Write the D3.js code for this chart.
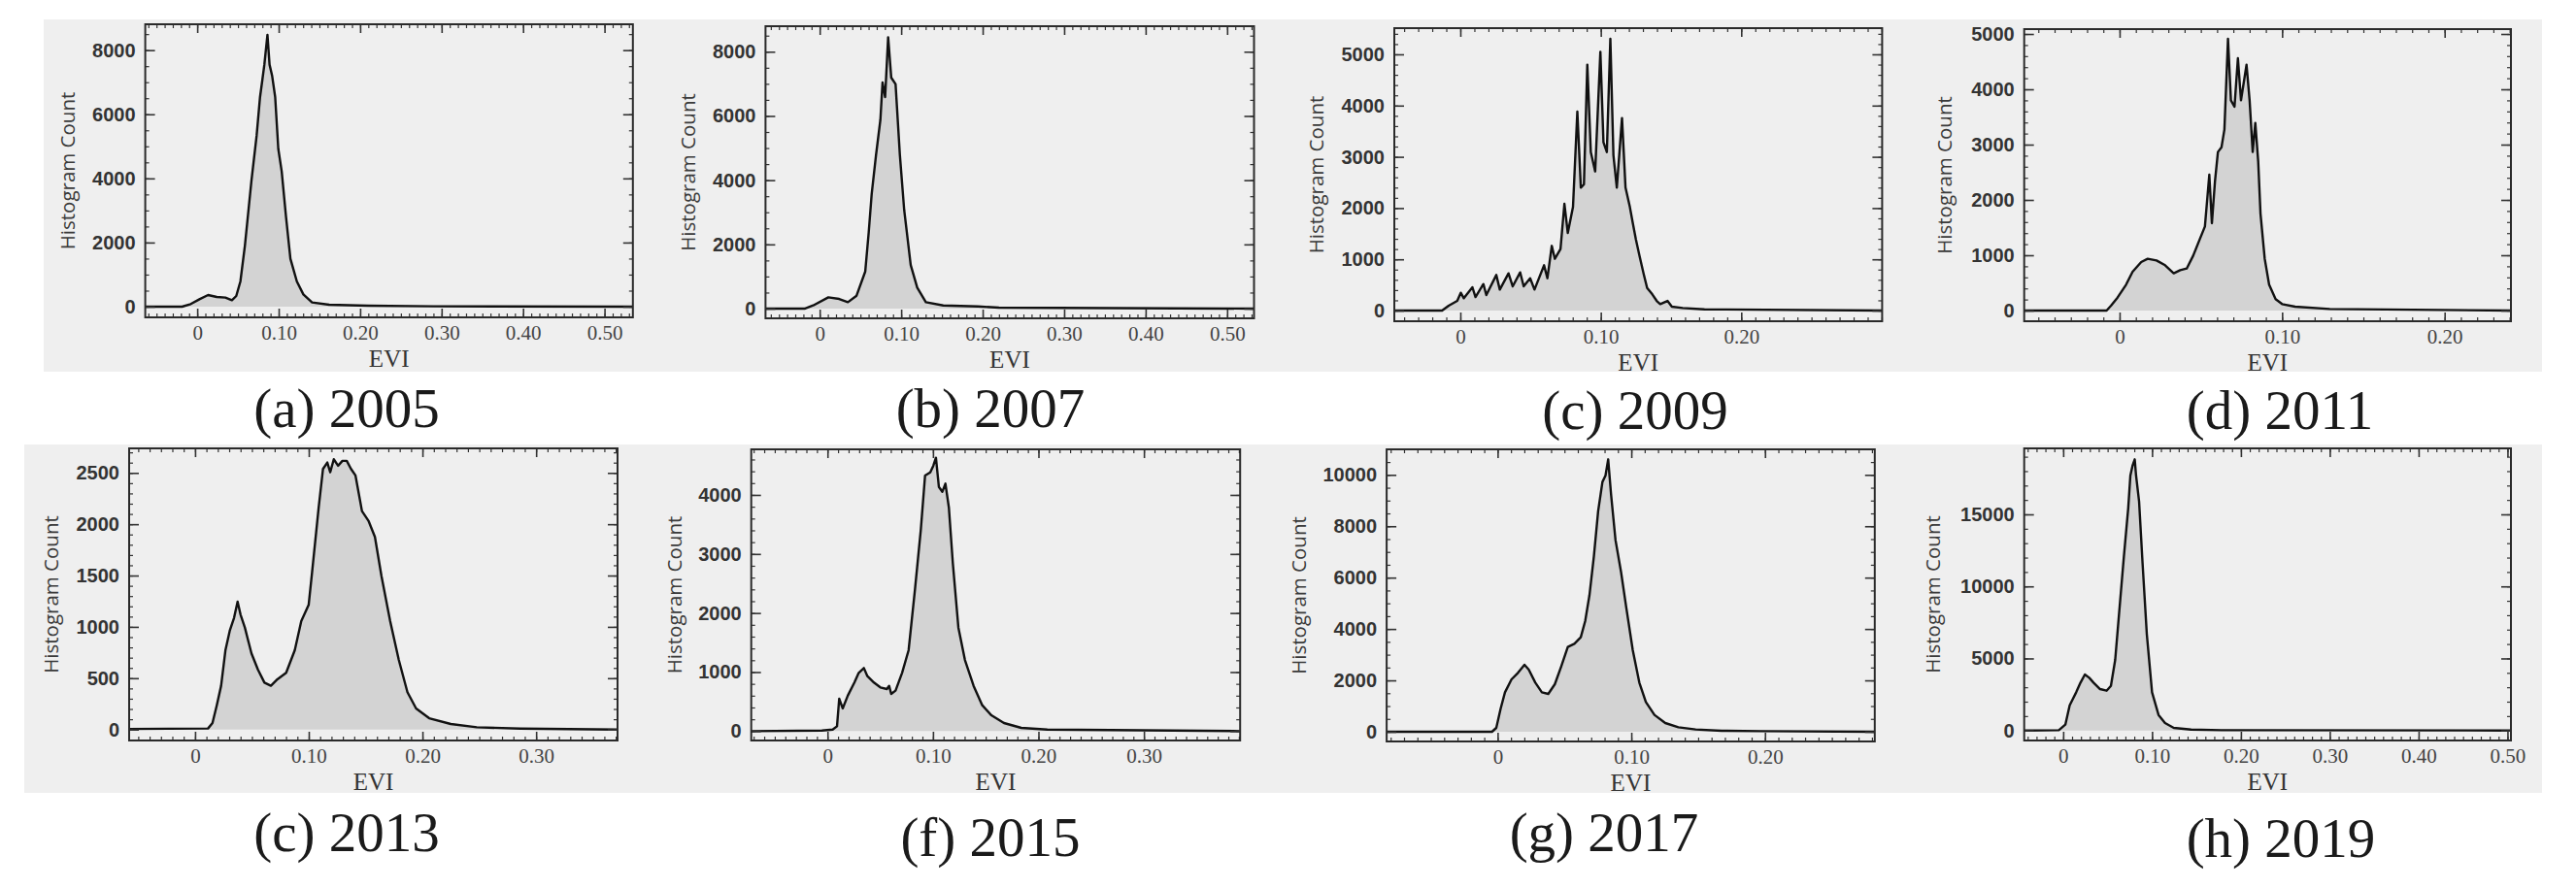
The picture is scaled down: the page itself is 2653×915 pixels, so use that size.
<!DOCTYPE html>
<html>
<head>
<meta charset="utf-8">
<script src="https://cdn.jsdelivr.net/npm/d3@7"></script>
<style>
  body { margin: 0; background: #fff; }
  svg { display: block; }
</style>
</head>
<body>
<div id="chart"></div>
<script>
// EVI histograms, values (EVI -> pixel count)
const evi2005 = [-0.0638, -0.0186, -0.008, 0.0027, 0.0133, 0.024, 0.0346, 0.0426, 0.0479, 0.053, 0.0585, 0.0665, 0.0729, 0.0771, 0.0798, 0.0824, 0.0862, 0.0888, 0.092, 0.0957, 0.0995, 0.1037, 0.109, 0.1144, 0.1223, 0.1303, 0.141, 0.162, 0.21, 0.29, 0.5348];
const count2005 = [0, 0, 81, 232, 363, 303, 283, 200, 333, 787, 1897, 3915, 5328, 6538, 7043, 7547, 8476, 7547, 7194, 6538, 4924, 4218, 2805, 1493, 787, 383, 131, 60, 30, 10, 0];

const evi2007 = [-0.0665, -0.0186, -0.008, 0.0106, 0.0239, 0.0346, 0.0452, 0.0559, 0.0601, 0.0638, 0.0691, 0.0745, 0.0771, 0.0803, 0.084, 0.0878, 0.0931, 0.0984, 0.1037, 0.1117, 0.1197, 0.1303, 0.1516, 0.194, 0.22, 0.533];
const count2007 = [0, 0, 100, 352, 302, 201, 402, 1157, 2364, 3571, 4779, 5885, 7042, 6589, 8450, 7193, 6992, 4779, 3068, 1358, 654, 201, 100, 70, 30, 0];

const evi2009 = [-0.047, -0.013, -0.0083, -0.0022, 0.0003, 0.0025, 0.0086, 0.0108, 0.0164, 0.0185, 0.0256, 0.0281, 0.0343, 0.0373, 0.0426, 0.0451, 0.0497, 0.0528, 0.0596, 0.062, 0.0651, 0.0673, 0.0713, 0.0741, 0.0765, 0.0802, 0.0833, 0.0858, 0.088, 0.0904, 0.0929, 0.096, 0.0997, 0.1019, 0.1043, 0.1068, 0.109, 0.1114, 0.1151, 0.1176, 0.1207, 0.1228, 0.125, 0.1275, 0.1306, 0.133, 0.1367, 0.1398, 0.1423, 0.1475, 0.1506, 0.1583, 0.1738, 0.3003];
const count2009 = [0, 0, 95, 189, 347, 240, 455, 265, 518, 303, 694, 410, 726, 473, 745, 473, 631, 410, 884, 631, 1263, 1010, 1199, 2083, 1515, 2020, 3882, 2399, 2462, 4798, 3093, 2715, 5050, 3283, 3093, 5303, 3030, 2399, 3756, 2399, 2020, 1705, 1389, 1073, 707, 442, 316, 189, 126, 189, 76, 50, 25, 0];

const evi2011 = [-0.0587, -0.008, -0.0053, -0.0013, 0.004, 0.008, 0.0133, 0.0173, 0.0227, 0.028, 0.0333, 0.0373, 0.0413, 0.0453, 0.0493, 0.0525, 0.0552, 0.0568, 0.0587, 0.0605, 0.0627, 0.0645, 0.0667, 0.0685, 0.0707, 0.0728, 0.0747, 0.0781, 0.08, 0.0819, 0.0835, 0.0853, 0.0867, 0.0893, 0.092, 0.096, 0.1, 0.108, 0.1293, 0.2408];
const count2011 = [0, 0, 88, 234, 468, 702, 877, 936, 906, 819, 673, 731, 760, 994, 1287, 1520, 2456, 1579, 2339, 2866, 2953, 3275, 4912, 3801, 3684, 4561, 3801, 4444, 3801, 2866, 3392, 2690, 1754, 936, 468, 205, 117, 70, 29, 0];

const evi2013 = [-0.058, 0.0114, 0.0153, 0.0191, 0.0229, 0.0267, 0.0305, 0.0343, 0.0374, 0.04, 0.0438, 0.0496, 0.0553, 0.061, 0.0667, 0.0724, 0.0801, 0.0877, 0.0934, 0.0999, 0.1029, 0.1087, 0.1125, 0.1163, 0.1189, 0.122, 0.1258, 0.1296, 0.1334, 0.1372, 0.1411, 0.1468, 0.1525, 0.1582, 0.1639, 0.1716, 0.1792, 0.1868, 0.1944, 0.2059, 0.2249, 0.2478, 0.2859, 0.3716];
const count2013 = [5, 10, 63, 236, 426, 772, 962, 1088, 1245, 1119, 993, 741, 583, 457, 426, 489, 552, 772, 1056, 1214, 1529, 2160, 2538, 2601, 2507, 2633, 2570, 2617, 2617, 2538, 2475, 2128, 2034, 1876, 1498, 1056, 678, 363, 205, 110, 54, 22, 9, 0];

const evi2015 = [-0.0723, -0.0053, 0.0049, 0.009, 0.0111, 0.0144, 0.0193, 0.0255, 0.0296, 0.0345, 0.0378, 0.044, 0.0501, 0.0563, 0.0584, 0.0604, 0.0645, 0.0707, 0.0769, 0.083, 0.0884, 0.0925, 0.0974, 0.1003, 0.1028, 0.1056, 0.1089, 0.1118, 0.1151, 0.1188, 0.1241, 0.1303, 0.1385, 0.1467, 0.155, 0.1673, 0.1837, 0.2084, 0.3912];
const count2015 = [0, 10, 27, 82, 548, 384, 603, 822, 986, 1068, 931, 822, 740, 712, 767, 630, 685, 986, 1370, 2411, 3397, 4328, 4383, 4493, 4630, 4136, 4054, 4191, 3781, 2849, 1753, 1205, 767, 438, 274, 137, 55, 27, 0];

const evi2017 = [-0.083, -0.0042, -0.001, 0.0023, 0.0055, 0.0104, 0.0152, 0.0201, 0.0233, 0.0282, 0.0331, 0.0379, 0.0428, 0.0476, 0.0525, 0.0574, 0.0622, 0.0655, 0.0687, 0.072, 0.0752, 0.0784, 0.0807, 0.0827, 0.0849, 0.0882, 0.0924, 0.0963, 0.1011, 0.106, 0.1109, 0.1173, 0.1254, 0.1352, 0.1481, 0.1676, 0.1968, 0.2821];
const count2017 = [0, 0, 151, 907, 1536, 2040, 2292, 2607, 2418, 1914, 1536, 1473, 1851, 2544, 3300, 3426, 3677, 4307, 5315, 6826, 8589, 9723, 9974, 10604, 9219, 7456, 6196, 4811, 3174, 1914, 1159, 655, 340, 176, 88, 38, 25, 0];

const evi2019 = [-0.0439, -0.0049, 0.0024, 0.0073, 0.0146, 0.0195, 0.0244, 0.0293, 0.0341, 0.0415, 0.0488, 0.0537, 0.0585, 0.0634, 0.0683, 0.0732, 0.0756, 0.078, 0.0805, 0.082, 0.0854, 0.0893, 0.0941, 0.1, 0.1073, 0.1146, 0.1244, 0.1439, 0.178, 0.5039];
const count2019 = [0, 20, 404, 1751, 2650, 3323, 3885, 3660, 3323, 2874, 2762, 3099, 4895, 8488, 12081, 15449, 17695, 18368, 18817, 17695, 15898, 11632, 6692, 2650, 1078, 516, 180, 67, 22, 0];

// axis ranges and tick labels
const captions = ["(a) 2005", "(b) 2007", "(c) 2009", "(d) 2011", "(c) 2013", "(f) 2015", "(g) 2017", "(h) 2019"];
const xDomains = [[-0.0638, 0.5348], [-0.0665, 0.533], [-0.047, 0.3003], [-0.0587, 0.2408],
                  [-0.058, 0.3716], [-0.0723, 0.3912], [-0.083, 0.2821], [-0.0439, 0.5039]];
const yDomains = [[-333, 8807], [-302, 8794], [-208, 5511], [-193, 5088],
                  [-107, 2739], [-159, 4772], [-378, 10994], [-694, 19580]];
const xTicksWide = [0, 0.1, 0.2, 0.3, 0.4, 0.5];
const xTicksMid = [0, 0.1, 0.2, 0.3];
const xTicksShort = [0, 0.1, 0.2];
const yTicks8000 = [0, 2000, 4000, 6000, 8000];
const yTicks5000 = [0, 1000, 2000, 3000, 4000, 5000];
const yTicks2500 = [0, 500, 1000, 1500, 2000, 2500];
const yTicks4000 = [0, 1000, 2000, 3000, 4000];
const yTicks10000 = [0, 2000, 4000, 6000, 8000, 10000];
const yTicks15000 = [0, 5000, 10000, 15000];
const yMinorSteps = [500, 500, 200, 200, 100, 200, 500, 1000];

// panel placement on the page
const boxes = [[149.6, 25, 651.8, 327], [788.4, 27, 1291.5, 328], [1436, 29, 1938.4, 331], [2084.7, 30, 2586, 331],
               [133, 462, 636, 763], [773.7, 463, 1277.2, 763], [1428.1, 463, 1930.8, 764], [2084.7, 462, 2586, 763]];
const captionPos = [[357, 440], [1020, 440], [1684, 442], [2348, 442], [357, 877], [1020, 882], [1652, 877], [2349, 883]];
const ylabelDx = [80, 80, 80, 82, 80, 79, 90, 94];

const panels = [
  {evi: evi2005, count: count2005, xt: xTicksWide, yt: yTicks8000},
  {evi: evi2007, count: count2007, xt: xTicksWide, yt: yTicks8000},
  {evi: evi2009, count: count2009, xt: xTicksShort, yt: yTicks5000},
  {evi: evi2011, count: count2011, xt: xTicksShort, yt: yTicks5000},
  {evi: evi2013, count: count2013, xt: xTicksMid, yt: yTicks2500},
  {evi: evi2015, count: count2015, xt: xTicksMid, yt: yTicks4000},
  {evi: evi2017, count: count2017, xt: xTicksShort, yt: yTicks10000},
  {evi: evi2019, count: count2019, xt: xTicksWide, yt: yTicks15000}
];

const width = 2653, height = 915;
const serif = "'Liberation Serif', 'Times New Roman', serif";
const sans = "'Liberation Sans', Arial, sans-serif";

const svg = d3.select("#chart").append("svg")
  .attr("width", width)
  .attr("height", height)
  .attr("viewBox", [0, 0, width, height]);

// grey panel bands behind each row
svg.append("rect").attr("x", 45).attr("y", 20).attr("width", 2573).attr("height", 363).attr("fill", "#efefef");
svg.append("rect").attr("x", 25).attr("y", 458).attr("width", 2593).attr("height", 359).attr("fill", "#efefef");

const fmtX = d => d === 0 ? "0" : d3.format(".2f")(d);
const fmtY = d3.format("d");

function styleAxis(sel, w) {
  sel.select(".domain").remove();
  sel.selectAll(".tick line").attr("stroke", "#333").attr("stroke-width", w);
}

panels.forEach((p, i) => {
  const [x0, y0, x1, y1] = boxes[i];
  const x = d3.scaleLinear().domain(xDomains[i]).range([x0, x1]);
  const y = d3.scaleLinear().domain(yDomains[i]).range([y1, y0]);
  const pts = p.evi.map((e, j) => [e, p.count[j]]);
  const g = svg.append("g");

  g.append("path")
    .datum(pts)
    .attr("fill", "#d3d3d3")
    .attr("d", d3.area().x(d => x(d[0])).y0(y(0)).y1(d => y(d[1])));

  g.append("path")
    .datum(pts)
    .attr("fill", "none")
    .attr("stroke", "#111")
    .attr("stroke-width", 2.4)
    .attr("stroke-linejoin", "round")
    .attr("d", d3.line().x(d => x(d[0])).y(d => y(d[1])));

  const xd = xDomains[i], yd = yDomains[i], ys = yMinorSteps[i];
  const minorX = d3.range(Math.ceil(xd[0] * 100), Math.floor(xd[1] * 100) + 1).map(k => k / 100);
  const minorY = d3.range(Math.ceil(yd[0] / ys), Math.floor(yd[1] / ys) + 1).map(k => k * ys);

  // minor ticks on all four sides
  g.append("g").attr("transform", `translate(0,${y1})`)
    .call(d3.axisBottom(x).tickValues(minorX).tickSize(-4).tickFormat(""))
    .call(s => styleAxis(s, 1.2));
  g.append("g").attr("transform", `translate(0,${y0})`)
    .call(d3.axisTop(x).tickValues(minorX).tickSize(-4).tickFormat(""))
    .call(s => styleAxis(s, 1.2));
  g.append("g").attr("transform", `translate(${x0},0)`)
    .call(d3.axisLeft(y).tickValues(minorY).tickSize(-4).tickFormat(""))
    .call(s => styleAxis(s, 1.2));
  g.append("g").attr("transform", `translate(${x1},0)`)
    .call(d3.axisRight(y).tickValues(minorY).tickSize(-4).tickFormat(""))
    .call(s => styleAxis(s, 1.2));

  // major ticks
  g.append("g").attr("transform", `translate(0,${y1})`)
    .call(d3.axisBottom(x).tickValues(p.xt).tickFormat(fmtX).tickSizeInner(-9).tickSizeOuter(0).tickPadding(8))
    .call(s => styleAxis(s, 1.6))
    .call(s => s.selectAll("text").attr("fill", "#444").style("font", `21px ${serif}`));
  g.append("g").attr("transform", `translate(0,${y0})`)
    .call(d3.axisTop(x).tickValues(p.xt).tickSize(-9).tickFormat(""))
    .call(s => styleAxis(s, 1.6));
  g.append("g").attr("transform", `translate(${x0},0)`)
    .call(d3.axisLeft(y).tickValues(p.yt).tickFormat(fmtY).tickSizeInner(-10).tickSizeOuter(0).tickPadding(10))
    .call(s => styleAxis(s, 1.6))
    .call(s => s.selectAll("text").attr("fill", "#333").style("font", `bold 20px ${sans}`));
  g.append("g").attr("transform", `translate(${x1},0)`)
    .call(d3.axisRight(y).tickValues(p.yt).tickSize(-10).tickFormat(""))
    .call(s => styleAxis(s, 1.6));

  g.append("rect")
    .attr("x", x0).attr("y", y0)
    .attr("width", x1 - x0).attr("height", y1 - y0)
    .attr("fill", "none")
    .attr("stroke", "#2a2a2a")
    .attr("stroke-width", 2);

  g.append("text")
    .attr("x", (x0 + x1) / 2)
    .attr("y", y1 + 51)
    .attr("text-anchor", "middle")
    .attr("fill", "#333")
    .style("font", `25px ${serif}`)
    .text("EVI");

  g.append("text")
    .attr("transform", `translate(${x0 - ylabelDx[i]},${(y0 + y1) / 2}) rotate(-90)`)
    .attr("text-anchor", "middle")
    .attr("dy", "0.35em")
    .attr("fill", "#3a3a3a")
    .style("font", "20.5px 'Open Sans', sans-serif")
    .text("Histogram Count");

  svg.append("text")
    .attr("x", captionPos[i][0])
    .attr("y", captionPos[i][1])
    .attr("text-anchor", "middle")
    .attr("fill", "#1a1a1a")
    .style("font", `57px ${serif}`)
    .text(captions[i]);
});
</script>
</body>
</html>
